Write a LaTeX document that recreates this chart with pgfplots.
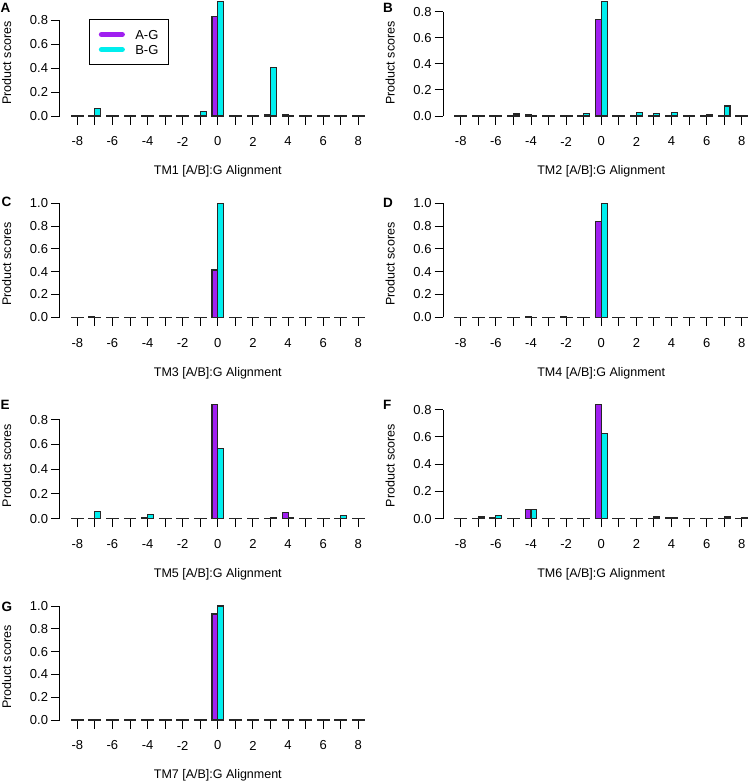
\documentclass[border=0pt]{standalone}
\usepackage{pgfplots}
\pgfplotsset{compat=1.18}
\usepackage{pgfplotstable}
\usepackage{fontspec}
\setmainfont{Liberation Sans}
\definecolor{agcol}{HTML}{A020F0}
\definecolor{bgcol}{HTML}{00EEEE}
\newcommand{\fsz}{\fontsize{12.5}{15}\selectfont}
\newcommand{\tsz}{\fontsize{13}{15}\selectfont}
\newcommand{\lsz}{\bfseries\fontsize{13.5}{15}\selectfont}

\pgfplotstableread{
pos ag bg
-8 0.002 0.001
-7 0.002 0.065
-6 0.002 0.002
-5 0.002 0.002
-4 0.003 0.002
-3 0.004 0.003
-2 0.003 0.003
-1 0.002 0.035
0 0.830 0.955
1 0.002 0.002
2 0.002 0.002
3 0.010 0.405
4 0.008 0.006
5 0.002 0.002
6 0.002 0.002
7 0.004 0.003
8 0.002 0.001
}\tmA
\pgfplotstableread{
pos ag bg
-8 0.004 0.002
-7 0.002 0.002
-6 0.002 0.002
-5 0.004 0.015
-4 0.008 0.005
-3 0.002 0.002
-2 0.002 0.002
-1 0.004 0.020
0 0.740 0.877
1 0.002 0.002
2 0.004 0.030
3 0.005 0.020
4 0.005 0.028
5 0.003 0.003
6 0.004 0.008
7 0.003 0.077
8 0.002 0.002
}\tmB
\pgfplotstableread{
pos ag bg
-8 0.002 0.002
-7 0.003 0.002
-6 0.002 0.002
-5 0.002 0.002
-4 0.002 0.002
-3 0.002 0.002
-2 0.002 0.002
-1 0.002 0.002
0 0.415 1.000
1 0.002 0.002
2 0.002 0.002
3 0.002 0.002
4 0.002 0.002
5 0.002 0.002
6 0.002 0.002
7 0.002 0.002
8 0.002 0.002
}\tmC
\pgfplotstableread{
pos ag bg
-8 0.002 0.002
-7 0.002 0.002
-6 0.002 0.002
-5 0.002 0.002
-4 0.006 0.002
-3 0.002 0.002
-2 0.004 0.002
-1 0.002 0.002
0 0.840 1.000
1 0.002 0.002
2 0.002 0.002
3 0.002 0.002
4 0.002 0.002
5 0.002 0.002
6 0.002 0.002
7 0.002 0.002
8 0.002 0.002
}\tmD
\pgfplotstableread{
pos ag bg
-8 0.003 0.002
-7 0.002 0.054
-6 0.002 0.002
-5 0.003 0.004
-4 0.008 0.032
-3 0.003 0.003
-2 0.002 0.002
-1 0.003 0.003
0 0.920 0.570
1 0.002 0.002
2 0.002 0.002
3 0.004 0.008
4 0.049 0.008
5 0.002 0.003
6 0.002 0.002
7 0.003 0.022
8 0.002 0.002
}\tmE
\pgfplotstableread{
pos ag bg
-8 0.002 0.002
-7 0.003 0.012
-6 0.005 0.022
-5 0.003 0.003
-4 0.068 0.066
-3 0.002 0.002
-2 0.004 0.004
-1 0.003 0.003
0 0.837 0.624
1 0.002 0.002
2 0.002 0.003
3 0.004 0.012
4 0.005 0.005
5 0.002 0.002
6 0.002 0.002
7 0.003 0.012
8 0.003 0.008
}\tmF
\pgfplotstableread{
pos ag bg
-8 0.002 0.002
-7 0.002 0.002
-6 0.002 0.002
-5 0.002 0.002
-4 0.008 0.002
-3 0.004 0.002
-2 0.002 0.002
-1 0.002 0.002
0 0.930 1.000
1 0.002 0.002
2 0.002 0.002
3 0.002 0.002
4 0.007 0.003
5 0.002 0.002
6 0.002 0.002
7 0.002 0.002
8 0.002 0.002
}\tmG

\pgfplotsset{
  panel/.style={
    scale only axis, width=316.1pt,
    xmin=-9, xmax=9, ymin=0,
    clip=false,
    anchor=south west,
    axis x line*=bottom, axis y line*=left,
    x axis line style={draw=none},
    y axis line style={-, line width=0.9pt},
    tick align=outside,
    major tick length=8.5pt,
    tick style={line width=0.9pt, black},
    xtick={-8,-7,-6,-5,-4,-3,-2,-1,0,1,2,3,4,5,6,7,8},
    xticklabels={-8,{},-6,{},-4,{},-2,{},0,{},2,{},4,{},6,{},8},
    xticklabel style={anchor=center, inner sep=0pt, yshift=-17pt, font=\tsz},
    yticklabel style={anchor=east, inner sep=0pt, xshift=-3pt, font=\tsz},
    xlabel style={at={(axis description cs:0.5,0)}, anchor=center, yshift=-55.5pt, font=\fsz},
    ylabel={Product scores},
    ylabel style={font=\fsz},
  },
  yl/.style={ylabel style={at={(axis description cs:-0.16767,#1)}, anchor=center}},
  ymaxa/.style={ymax=0.8, ytick={0,0.2,0.4,0.6,0.8}, yticklabels={0.0,0.2,0.4,0.6,0.8}},
  ymaxb/.style={ymax=1.0, ytick={0,0.2,0.4,0.6,0.8,1.0}, yticklabels={0.0,0.2,0.4,0.6,0.8,1.0}},
  agbar/.style={ybar, bar width=0.33333, bar shift=-0.166667, fill=agcol, draw=black!85, line width=1.1pt, forget plot},
  bgbar/.style={ybar, bar width=0.33333, bar shift=0.166667, fill=bgcol, draw=black!85, line width=1.1pt, forget plot},
}

\begin{document}
\begin{tikzpicture}
\path[use as bounding box] (0pt,0pt) rectangle (749pt,-784pt);

% A
\begin{axis}[panel, ymaxa, at={(59.76pt,-116pt)}, height=96pt, yl=0.552,
  xlabel={TM1 [A/B]:G Alignment},
  legend style={at={(axis description cs:0.0924,1.0104)}, anchor=north west, draw=black, line width=0.9pt,
    inner xsep=9pt, inner ysep=9.5pt, row sep=4pt, column sep=9pt,
    nodes={inner sep=1pt, text depth=0pt}, font=\tsz},
  legend cell align=left]
\addplot[agbar] table[x=pos, y=ag]{\tmA};
\addplot[bgbar] table[x=pos, y=bg]{\tmA};
\addlegendimage{legend image code/.code={\path (0pt,0pt) (26pt,0pt); \draw[agcol, line width=5pt, line cap=round] (2.5pt,0pt) -- (23.5pt,0pt);}}
\addlegendentry{A-G}
\addlegendimage{legend image code/.code={\path (0pt,0pt) (26pt,0pt); \draw[bgcol, line width=5pt, line cap=round] (2.5pt,0pt) -- (23.5pt,0pt);}}
\addlegendentry{B-G}
\end{axis}

% B
\begin{axis}[panel, ymaxa, at={(443.2pt,-116pt)}, height=104.3pt, yl=0.508,
  xlabel={TM2 [A/B]:G Alignment}]
\addplot[agbar] table[x=pos, y=ag]{\tmB};
\addplot[bgbar] table[x=pos, y=bg]{\tmB};
\end{axis}

% C
\begin{axis}[panel, ymaxb, at={(59.76pt,-317.3pt)}, height=114pt, yl=0.465,
  xlabel={TM3 [A/B]:G Alignment}]
\addplot[agbar] table[x=pos, y=ag]{\tmC};
\addplot[bgbar] table[x=pos, y=bg]{\tmC};
\end{axis}

% D
\begin{axis}[panel, ymaxb, at={(443.2pt,-317.3pt)}, height=114pt, yl=0.465,
  xlabel={TM4 [A/B]:G Alignment}]
\addplot[agbar] table[x=pos, y=ag]{\tmD};
\addplot[bgbar] table[x=pos, y=bg]{\tmD};
\end{axis}

% E
\begin{axis}[panel, ymaxa, at={(59.76pt,-518.6pt)}, height=99pt, yl=0.535,
  xlabel={TM5 [A/B]:G Alignment}]
\addplot[agbar] table[x=pos, y=ag]{\tmE};
\addplot[bgbar] table[x=pos, y=bg]{\tmE};
\end{axis}

% F
\begin{axis}[panel, ymaxa, at={(443.2pt,-518.6pt)}, height=109pt, yl=0.486,
  xlabel={TM6 [A/B]:G Alignment}]
\addplot[agbar] table[x=pos, y=ag]{\tmF};
\addplot[bgbar] table[x=pos, y=bg]{\tmF};
\end{axis}

% G
\begin{axis}[panel, ymaxb, at={(59.76pt,-720pt)}, height=114pt, yl=0.465,
  xlabel={TM7 [A/B]:G Alignment}]
\addplot[agbar] table[x=pos, y=ag]{\tmG};
\addplot[bgbar] table[x=pos, y=bg]{\tmG};
\end{axis}

\node[anchor=west, inner sep=0pt, font=\lsz] at (0.5pt,-8pt) {A};
\node[anchor=west, inner sep=0pt, font=\lsz] at (383pt,-7.5pt) {B};
\node[anchor=west, inner sep=0pt, font=\lsz] at (1.5pt,-201.5pt) {C};
\node[anchor=west, inner sep=0pt, font=\lsz] at (383pt,-203pt) {D};
\node[anchor=west, inner sep=0pt, font=\lsz] at (0.5pt,-405pt) {E};
\node[anchor=west, inner sep=0pt, font=\lsz] at (383pt,-405pt) {F};
\node[anchor=west, inner sep=0pt, font=\lsz] at (1.5pt,-607pt) {G};
\end{tikzpicture}
\end{document}
